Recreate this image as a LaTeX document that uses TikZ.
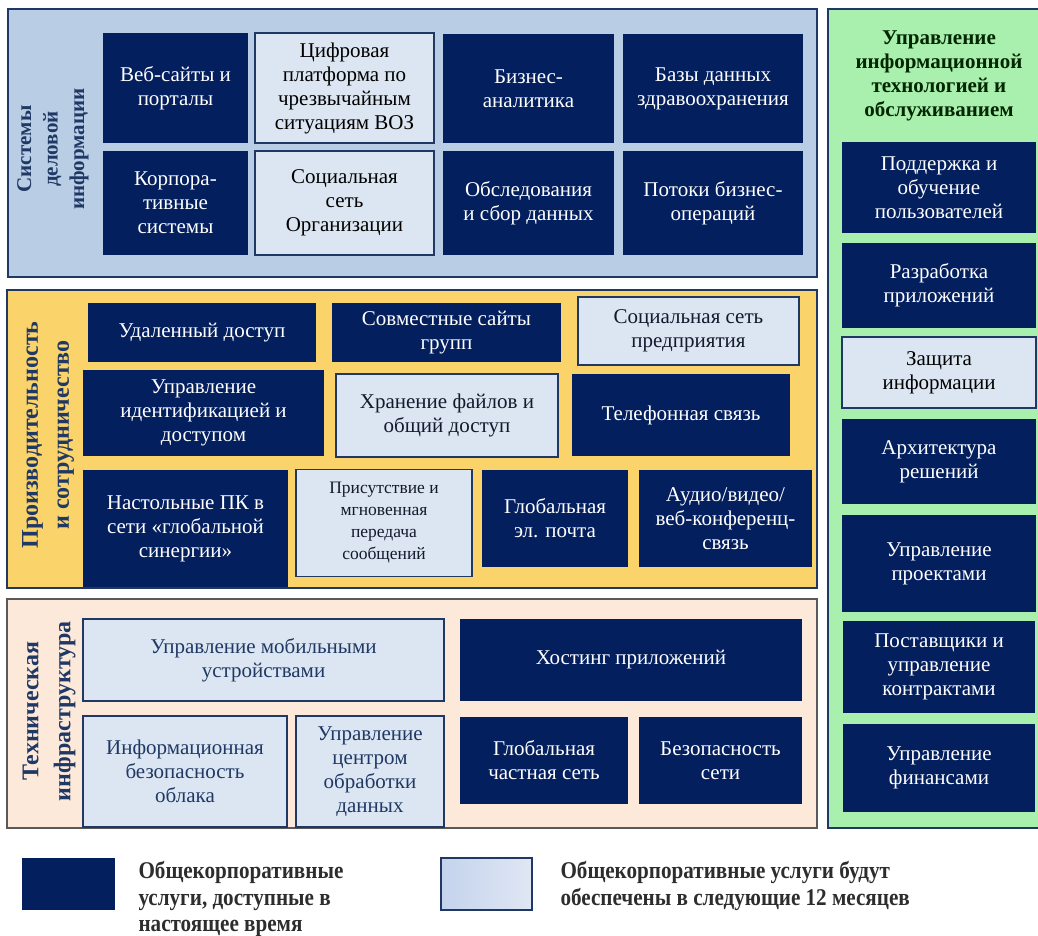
\documentclass[tikz,border=0pt]{standalone}
\usepackage{fontspec}
\setmainfont{Liberation Serif}
\newfontfamily\legendfont{Liberation Serif}[FakeStretch=0.88]
\usepackage{tikz}

\definecolor{navy}{RGB}{3,31,94}
\definecolor{pale}{RGB}{220,230,242}
\definecolor{edge}{RGB}{31,56,100}
\definecolor{ink}{RGB}{20,25,45}
\definecolor{sysfill}{RGB}{185,205,229}
\definecolor{prodfill}{RGB}{250,211,107}
\definecolor{techfill}{RGB}{253,233,218}
\definecolor{itfill}{RGB}{169,239,173}
\definecolor{keytext}{RGB}{45,45,45}
\definecolor{keyleft}{RGB}{196,211,236}
\definecolor{keyright}{RGB}{224,231,244}

\begin{document}
\begin{tikzpicture}[x=1pt,y=-1pt,
  darktile/.style={fill=navy,text=white,inner sep=0pt,align=center,
    font=\fontsize{21}{24}\selectfont},
  lighttile/.style={fill=pale,draw=edge,line width=1.5pt,text=ink,inner sep=0pt,
    align=center,font=\fontsize{21}{24}\selectfont},
  grouplabel/.style={rotate=90,align=center,text=edge,
    font=\bfseries\fontsize{24}{31}\selectfont},
  keytxt/.style={anchor=west,align=left,text=keytext,
    font=\legendfont\bfseries\fontsize{24}{26.5}\selectfont}]
 \useasboundingbox (0,0) rectangle (1038,935);

 % panels
 \draw[fill=sysfill,draw=edge,line width=1.5pt] (8,9) rectangle (817,277);
 \draw[fill=prodfill,draw=edge,line width=1.5pt] (7,290) rectangle (817,588);
 \draw[fill=techfill,draw=black!65,line width=1.5pt] (7,599) rectangle (817,828);
 \draw[fill=itfill,draw=edge,line width=2pt] (828,9) rectangle (1050,828);

 % business information systems
 \node[grouplabel,font=\bfseries\fontsize{21}{26.5}\selectfont] (syslabel) at (53,149)
   {Системы\\деловой\\информации};
 \node[darktile,minimum width=145pt,minimum height=110pt] (websites) at (175.5,88)
   {Веб-сайты и\\порталы};
 \node[lighttile,text=black,minimum width=179pt,minimum height=110pt] (whoplatform) at (344.5,88)
   {Цифровая\\платформа по\\чрезвычайным\\ситуациям ВОЗ};
 \node[darktile,minimum width=171pt,minimum height=109pt] (analytics) at (528.5,88.5)
   {Бизнес-\\аналитика};
 \node[darktile,minimum width=180pt,minimum height=109pt] (healthdb) at (713,88.5)
   {Базы данных\\здравоохранения};
 \node[darktile,minimum width=145pt,minimum height=104pt] (corpsys) at (175.5,203)
   {Корпора-\\тивные\\системы};
 \node[lighttile,text=black,minimum width=179pt,minimum height=104pt] (orgsocial) at (344.5,203)
   {Социальная\\сеть\\Организации};
 \node[darktile,minimum width=171pt,minimum height=104pt] (surveys) at (528.5,203)
   {Обследования\\и сбор данных};
 \node[darktile,minimum width=180pt,minimum height=104pt] (workflows) at (713,203)
   {Потоки бизнес-\\операций};

 % productivity and collaboration
 \node[grouplabel] (prodlabel) at (48,435) {Производительность\\и сотрудничество};
 \node[darktile,minimum width=228pt,minimum height=59pt] (remote) at (202,332.5)
   {Удаленный доступ};
 \node[darktile,minimum width=229pt,minimum height=59pt] (teamsites) at (446.5,332.5)
   {Совместные сайты\\групп};
 \node[lighttile,minimum width=221pt,minimum height=68pt] (entsocial) at (688.5,331)
   {Социальная сеть\\предприятия};
 \node[darktile,minimum width=241pt,minimum height=86pt] (identity) at (203.5,413)
   {Управление\\идентификацией и\\доступом};
 \node[lighttile,minimum width=222pt,minimum height=83pt] (files) at (447,415.5)
   {Хранение файлов и\\общий доступ};
 \node[darktile,minimum width=218pt,minimum height=82pt] (phone) at (681,415)
   {Телефонная связь};
 \node[darktile,minimum width=205pt,minimum height=117pt] (desktop) at (185.5,528.5)
   {Настольные ПК в\\сети «глобальной\\синергии»};
 \node[lighttile,minimum width=176pt,minimum height=107pt,
   font=\fontsize{17.5}{22}\selectfont] (presence) at (384,523)
   {Присутствие и\\мгновенная\\передача\\сообщений};
 \node[darktile,minimum width=146pt,minimum height=97pt] (email) at (555,518.5)
   {Глобальная\\эл. почта};
 \node[darktile,minimum width=173pt,minimum height=97pt] (conferencing) at (725.5,518.5)
   {Аудио/видео/\\веб-конференц-\\связь};

 % technical infrastructure
 \node[grouplabel,font=\bfseries\fontsize{24}{32}\selectfont] (techlabel) at (49,711)
   {Техническая\\инфраструктура};
 \node[lighttile,text=edge,minimum width=361pt,minimum height=82pt] (mobile) at (263.5,660)
   {Управление мобильными\\устройствами};
 \node[lighttile,text=edge,minimum width=204pt,minimum height=111pt] (cloudsec) at (185,771.5)
   {Информационная\\безопасность\\облака};
 \node[lighttile,text=edge,minimum width=148pt,minimum height=111pt] (datacentre) at (370,771.5)
   {Управление\\центром\\обработки\\данных};
 \node[darktile,minimum width=342pt,minimum height=82pt] (hosting) at (631,660)
   {Хостинг приложений};
 \node[darktile,minimum width=168pt,minimum height=87pt] (privnet) at (544,760.5)
   {Глобальная\\частная сеть};
 \node[darktile,minimum width=163pt,minimum height=87pt] (netsec) at (720.5,760.5)
   {Безопасность\\сети};

 % IT service management
 \node[align=center,text=black!85!green,font=\bfseries\fontsize{21}{24}\selectfont]
   (ittitle) at (939,76)
   {Управление\\информационной\\технологией и\\обслуживанием};
 \node[darktile,minimum width=194pt,minimum height=91pt] (support) at (939,187.5)
   {Поддержка и\\обучение\\пользователей};
 \node[darktile,minimum width=194pt,minimum height=85pt] (appdev) at (939,285.5)
   {Разработка\\приложений};
 \node[lighttile,text=black,minimum width=194pt,minimum height=71pt] (infosec) at (939,372.5)
   {Защита\\информации};
 \node[darktile,minimum width=194pt,minimum height=85pt] (architecture) at (939,461.5)
   {Архитектура\\решений};
 \node[darktile,minimum width=194pt,minimum height=97pt] (projects) at (939,563.5)
   {Управление\\проектами};
 \node[darktile,minimum width=192pt,minimum height=92pt] (vendors) at (939,667)
   {Поставщики и\\управление\\контрактами};
 \node[darktile,minimum width=192pt,minimum height=88pt] (finance) at (939,768)
   {Управление\\финансами};

 % legend
 \node[fill=navy,minimum width=93pt,minimum height=52pt,inner sep=0pt] (keynow) at (68.5,884) {};
 \node[keytxt] (keynowtext) at (135,899)
   {Общекорпоративные\\услуги, доступные в\\настоящее время};
 \node[draw=edge,line width=1.2pt,left color=keyleft,right color=keyright,
   minimum width=91pt,minimum height=52pt,inner sep=0pt] (keynext) at (486.5,884) {};
 \node[keytxt] (keynexttext) at (557,886)
   {Общекорпоративные услуги будут\\обеспечены в следующие 12 месяцев};
\end{tikzpicture}
\end{document}
